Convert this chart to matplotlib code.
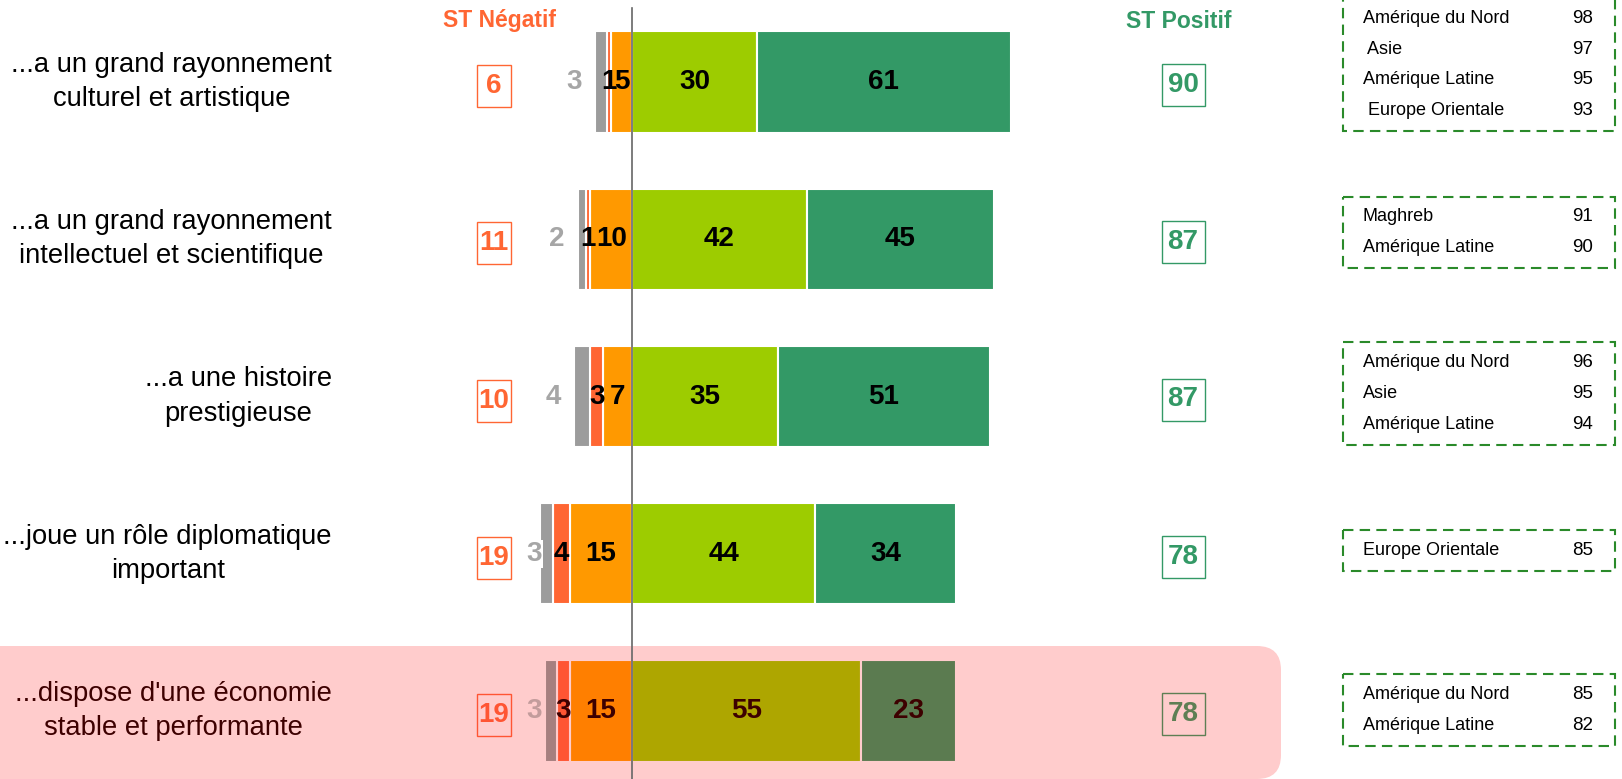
import matplotlib
matplotlib.use('Agg')
import matplotlib.pyplot as plt
from matplotlib.patches import FancyBboxPatch, Rectangle
import matplotlib.transforms as mtransforms

plt.rcParams['font.family'] = ['Liberation Sans', 'DejaVu Sans']

# ---------------- data ----------------
statements = [
    "...a un grand rayonnement\nculturel et artistique",
    "...a un grand rayonnement\nintellectuel et scientifique",
    "...a une histoire\nprestigieuse",
    "...joue un rôle diplomatique\nimportant",
    "...dispose d'une économie\nstable et performante",
]
nsp = [3, 2, 4, 3, 3]
tres_negatif = [1, 1, 3, 4, 3]
plutot_negatif = [5, 10, 7, 15, 15]
plutot_positif = [30, 42, 35, 44, 55]
tres_positif = [61, 45, 51, 34, 23]
st_negatif = [6, 11, 10, 19, 19]
st_positif = [90, 87, 87, 78, 78]
region_names = [
    ["Amérique du Nord", " Asie", "Amérique Latine", " Europe Orientale"],
    ["Maghreb", "Amérique Latine"],
    ["Amérique du Nord", "Asie", "Amérique Latine"],
    ["Europe Orientale"],
    ["Amérique du Nord", "Amérique Latine"],
]
region_scores = [
    [98, 97, 95, 93],
    [91, 90],
    [96, 95, 94],
    [85],
    [85, 82],
]
highlight_row = 4

# ---------------- layout ----------------
W, H = 1622, 779
X0 = 632.0       # pixel x of zero
PXU = 4.16       # pixels per percentage point
ROW0 = 82.0      # pixel y of first row centre
ROWSP = 157.25   # pixels between rows
BAR_H = 0.645

def px2x(px):
    return (px - X0) / PXU

def py2y(py):
    return (py - ROW0) / ROWSP

base = dict(nsp='#9c9c9c', tn='#ff6633', pn='#ff9900', pp='#9dcc00', tp='#339966',
            txt='#000000', nsplab='#a6a6a6', neg='#ff6633', pos='#339966', bg='white')
hl = dict(nsp='#a67f7f', tn='#ff5533', pn='#ff7f00', pp='#aea600', tp='#5b7b50',
          txt='#3d0000', nsplab='#c39c9c', neg='#ff5533', pos='#5e7f54', bg='#ffcccc')

fig = plt.figure(figsize=(W / 100, H / 100), dpi=100)
ax = fig.add_axes([0, 0, 1, 1])
ax.axis('off')
ax.set_xlim(px2x(0), px2x(W))
ax.set_ylim(py2y(H), py2y(0))

# pixel transform (top-left origin)
pix = mtransforms.Affine2D().scale(1, -1).translate(0, H)

# highlight background
ax.add_patch(FancyBboxPatch((-40, 646), 1321, 133, boxstyle="round,pad=0,rounding_size=24",
                            transform=pix, facecolor='#ffcccc', edgecolor='none', zorder=0))

box_shift_px = [-17.5, -7, -3, -3, -1]
LINE_PX = 30.7

for i in range(len(statements)):
    c = hl if i == highlight_row else base
    pn, tn, ns = plutot_negatif[i], tres_negatif[i], nsp[i]
    pp, tp = plutot_positif[i], tres_positif[i]
    kw = dict(height=BAR_H, edgecolor=c['bg'], linewidth=1.5, zorder=2)
    ax.barh(i, -pn, left=0, color=c['pn'], **kw)
    ax.barh(i, -tn, left=-pn, color=c['tn'], **kw)
    ax.barh(i, -ns, left=-(pn + tn), color=c['nsp'], **kw)
    ax.barh(i, pp, left=0, color=c['pp'], **kw)
    ax.barh(i, tp, left=pp, color=c['tp'], **kw)

    fkw = dict(ha='center', va='center', fontsize=20, fontweight='bold', color=c['txt'], zorder=4)
    ax.text(-pn / 2, i, str(pn), **fkw)
    ax.text(-pn - tn / 2, i, str(tn), **fkw)
    ax.text(pp / 2, i, str(pp), **fkw)
    ax.text(pp + tp / 2, i, str(tp), **fkw)
    left = -(pn + tn + ns)
    ax.text(max(left - 5, -23.5), i, str(ns), ha='center', va='center', fontsize=20,
            fontweight='bold', color=c['nsplab'], zorder=4,
            bbox=dict(facecolor=c['bg'], edgecolor='none', pad=0.5))

    # statement label
    ax.text(px2x(332), i, statements[i], ha='right', va='center', multialignment='center',
            fontsize=19.7, color=c['txt'], linespacing=1.42, zorder=4)

    # totals boxes
    bw, bh = 34 / PXU, 42 / ROWSP
    cx = px2x(494)
    ax.add_patch(Rectangle((cx - bw / 2, i - bh / 2 + 4 / ROWSP), bw, bh, facecolor='none',
                           edgecolor=c['neg'], linewidth=1, zorder=3))
    ax.text(cx, i + 4 / ROWSP, str(st_negatif[i]), ha='center', va='center', fontsize=20,
            fontweight='bold', color=c['neg'], zorder=4)
    bw2 = 43 / PXU
    cx2 = px2x(1183)
    ax.add_patch(Rectangle((cx2 - bw2 / 2, i - bh / 2 + 3 / ROWSP), bw2, bh, facecolor='none',
                           edgecolor=c['pos'], linewidth=1, zorder=3))
    ax.text(cx2, i + 3 / ROWSP, str(st_positif[i]), ha='center', va='center', fontsize=20,
            fontweight='bold', color=c['pos'], zorder=4)

    # region boxes
    n = len(region_names[i])
    hpx = n * LINE_PX + 10
    cy = ROW0 + i * ROWSP + box_shift_px[i]
    top = cy - hpx / 2
    ax.add_patch(Rectangle((1343, top), 272, hpx, transform=pix, facecolor='none',
                           edgecolor='#2a8a2a', linewidth=1.5, linestyle=(0, (5, 3)), zorder=3))
    for k, (name, sc) in enumerate(zip(region_names[i], region_scores[i])):
        ly = top + 5 + LINE_PX / 2 + k * LINE_PX
        ax.text(1363, ly, name, transform=pix, ha='left', va='center', fontsize=13, color='black')
        ax.text(1593, ly, str(sc), transform=pix, ha='right', va='center', fontsize=13.5, color='black')

# headers
ax.text(px2x(500), py2y(21), "ST Négatif", ha='center', va='center', fontsize=16.5,
        fontweight='bold', color='#ff6633')
ax.text(px2x(1179), py2y(21), "ST Positif", ha='center', va='center', fontsize=16.5,
        fontweight='bold', color='#339966')

# zero line
ax.plot([0, 0], [py2y(8), py2y(H)], color='#666666', linewidth=1.2, zorder=5)

fig.savefig('out.png', dpi=100)
